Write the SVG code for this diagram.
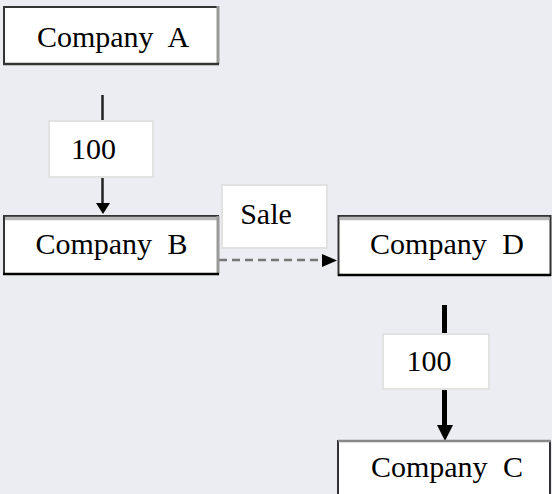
<svg xmlns="http://www.w3.org/2000/svg" width="552" height="494" viewBox="0 0 552 494">
<style>
.box{fill:#ffffff;stroke:#333333;stroke-width:2}
.shade{fill:none;stroke:#999999;stroke-width:3}
.lbl{fill:#ffffff;stroke:#e2e2e2;stroke-width:2}
.t{font-size:30px;fill:#000000;text-anchor:middle;word-spacing:8px}
</style>
<rect width="552" height="494" fill="#ecedf2"/>
<g id="connectors">
<line x1="102.5" y1="95" x2="102.5" y2="204" stroke="#222" stroke-width="2.5"/>
<polygon points="96,203 110,203 103,214" fill="#000"/>
<line x1="219" y1="260" x2="324" y2="260" stroke="#777" stroke-width="2.5" stroke-dasharray="8 5"/>
<polygon points="322,254 322,267 337,260.5" fill="#000"/>
<line x1="444.5" y1="305" x2="444.5" y2="428" stroke="#000" stroke-width="5"/>
<polygon points="437,425 453,425 445,441" fill="#000"/>
</g>
<g id="label-100-ab">
<rect class="lbl" x="49" y="121" width="104" height="56"/>
<text class="t" font-family="'Liberation Serif', 'DejaVu Serif', serif" x="93.5" y="159">100</text>
</g>
<g id="label-sale">
<rect class="lbl" x="222" y="185" width="105" height="63"/>
<text class="t" font-family="'Liberation Serif', 'DejaVu Serif', serif" x="266" y="224">Sale</text>
</g>
<g id="label-100-dc">
<rect class="lbl" x="383" y="334" width="106" height="55"/>
<text class="t" font-family="'Liberation Serif', 'DejaVu Serif', serif" x="429" y="371">100</text>
</g>
<g id="company-a">
<rect class="box" x="4" y="7" width="214" height="57"/>
<line class="shade" x1="218" y1="6" x2="218" y2="64"/>
<line x1="3" y1="64" x2="219" y2="64" stroke="#333" stroke-width="2.5"/>
<text class="t" font-family="'Liberation Serif', 'DejaVu Serif', serif" x="113" y="47">Company A</text>
</g>
<g id="company-b">
<rect class="box" x="4" y="216" width="214" height="58"/>
<line x1="5" y1="218.5" x2="217" y2="218.5" stroke="#b8b8b8" stroke-width="3.5"/>
<line class="shade" x1="218" y1="216" x2="218" y2="274"/>
<line x1="3" y1="274" x2="219" y2="274" stroke="#000" stroke-width="2.5"/>
<text class="t" font-family="'Liberation Serif', 'DejaVu Serif', serif" x="111.5" y="254">Company B</text>
</g>
<g id="company-d">
<rect class="box" x="338.5" y="216" width="212" height="59"/>
<line x1="340" y1="218.5" x2="549" y2="218.5" stroke="#b8b8b8" stroke-width="3.5"/>
<line x1="338" y1="275" x2="551" y2="275" stroke="#000" stroke-width="2.5"/>
<text class="t" font-family="'Liberation Serif', 'DejaVu Serif', serif" x="447" y="254">Company D</text>
</g>
<g id="company-c">
<rect class="box" x="338" y="441" width="212" height="60"/>
<line x1="338" y1="441" x2="551" y2="441" stroke="#888" stroke-width="2.5"/>
<text class="t" font-family="'Liberation Serif', 'DejaVu Serif', serif" x="447" y="477">Company C</text>
</g>
</svg>
